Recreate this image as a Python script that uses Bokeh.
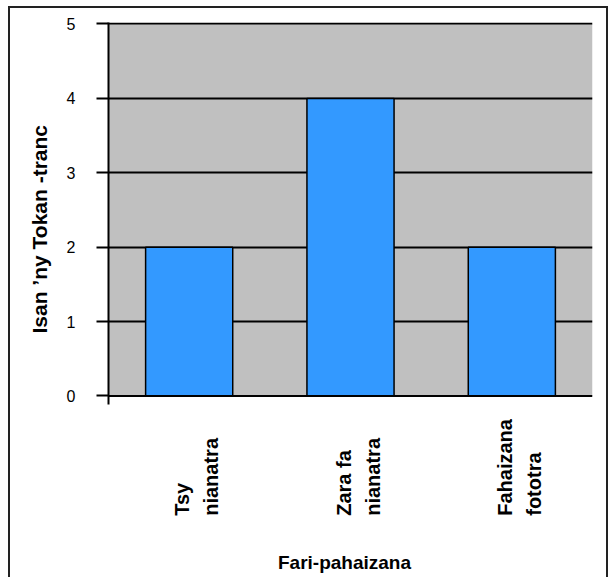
import math
from bokeh.plotting import figure
from bokeh.models import (FactorRange, Range1d, FixedTicker, BoxAnnotation, Span,
                          ColumnDataSource, Title)
from bokeh.core.properties import value
from bokeh.embed import file_html
from bokeh.resources import INLINE

categories = ["Tsy nianatra", "Zara fa nianatra", "Fahaizana fototra"]
label_lines = [["Tsy", "nianatra"], ["Zara fa", "nianatra"], ["Fahaizana", "fototra"]]
values = [2, 4, 2]
y_ticks = [0, 1, 2, 3, 4, 5]
y_title = "Isan \u2019ny Tokan  -tranc"
x_title = "Fari-pahaizana"

FONT = "Liberation Sans"

# layout constants (pixels)
W, H = 600, 571
MB_TOP, MB_BOTTOM = 14, 4
PX_PER_UNIT = 74.4
frame_h = H - MB_TOP - MB_BOTTOM
y_end = 5.02
y_start = y_end - frame_h / PX_PER_UNIT

p = figure(x_range=FactorRange(*categories), y_range=Range1d(y_start, y_end),
           width=W, height=H, output_backend="svg", toolbar_location=None,
           x_axis_location=None,
           min_border_left=98, min_border_right=18,
           min_border_top=MB_TOP, min_border_bottom=MB_BOTTOM)
p.styles = {"margin-left": "8px", "margin-top": "6px",
            "border-top": "2px solid #222", "border-left": "2px solid #222",
            "border-right": "2px solid #222"}

p.background_fill_color = "white"
p.border_fill_color = "white"
p.outline_line_color = None

# grey plot area 0..5
p.add_layout(BoxAnnotation(bottom=0, top=5, fill_color="#C0C0C0", fill_alpha=1,
                           line_color=None, level="image"))

# grid
p.xgrid.grid_line_color = None
p.ygrid.ticker = FixedTicker(ticks=y_ticks[1:])
p.ygrid.grid_line_color = "black"
p.ygrid.grid_line_width = 2

p.vbar(x=categories, top=values, width=0.54, fill_color="#3399FF",
       line_color="black", line_width=1.5)

# category axis line at 0
p.add_layout(Span(location=0, dimension="width", line_color="black", line_width=2))

# y axis
ya = p.yaxis[0]
ya.ticker = FixedTicker(ticks=y_ticks)
ya.bounds = (-0.11, 5.04)
ya.axis_line_color = "black"
ya.axis_line_width = 2
ya.major_tick_line_width = 2
ya.major_tick_line_color = "black"
ya.major_tick_out = 12
ya.major_tick_in = 0
ya.minor_tick_line_color = None
ya.major_label_standoff = 21
ya.major_label_text_font = FONT
ya.major_label_text_font_size = "16px"
ya.major_label_text_color = "black"

# y axis title (reads bottom to top), starting beside the 0..5 part
p.add_layout(Title(text=y_title, align="left", offset=242, standoff=25,
                   text_font=FONT, text_font_size="21px", text_font_style="bold",
                   text_color="black"), "left")

# rotated category labels, bottom aligned, two lines each
line_offsets = [-7, 22]
lx, ltext, loff = [], [], []
for cat, lines in zip(categories, label_lines):
    for j, line in enumerate(lines):
        lx.append(cat)
        ltext.append(line)
        loff.append(line_offsets[j])
src = ColumnDataSource(dict(x=lx, text=ltext, xoff=loff))
p.text(x="x", y=-1.61, text="text", x_offset="xoff", source=src,
       angle=math.pi / 2, text_align="left", text_baseline="alphabetic",
       text_font=value(FONT), text_font_size="20px", text_font_style="bold",
       text_color="black")

# category axis title
p.text(x=[categories[1]], y=[-2.24], text=[x_title], x_offset=-6,
       text_align="center", text_baseline="alphabetic",
       text_font=value(FONT), text_font_size="19px", text_font_style="bold",
       text_color="black")

open("out.html", "w").write(file_html(p, INLINE))
